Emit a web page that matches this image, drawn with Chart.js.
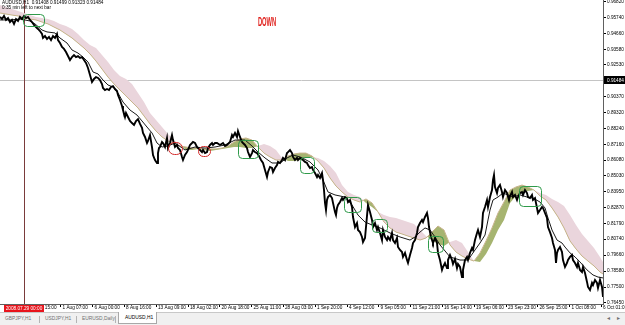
<!DOCTYPE html>
<html>
<head>
<meta charset="utf-8">
<script src="https://cdn.jsdelivr.net/npm/chart.js@4/dist/chart.umd.min.js"></script>
<style>
html,body{margin:0;padding:0;background:#fff;}
#wrap{position:relative;width:625px;height:325px;overflow:hidden;}
#c{position:absolute;left:0;top:0;}
#tabs{position:absolute;left:0;top:312px;width:625px;height:13px;background:#f0f0f0;border-top:1px solid #c8c8c8;box-sizing:border-box;}
.t{position:absolute;top:3px;font-family:'Liberation Sans',Arial,sans-serif;font-size:4.9px;line-height:6px;color:#707070;white-space:nowrap;}
.sep{position:absolute;top:3px;width:1px;height:7px;background:#b4b4b4;}
#act{position:absolute;left:118px;top:-1px;width:39px;height:12px;background:#fff;border:1px solid #a8a8a8;border-top:none;box-sizing:border-box;}
#act .t{left:6px;top:3px;color:#000;}
</style>
</head>
<body>
<div id="wrap">
<canvas id="c" width="625" height="312"></canvas>
<div id="tabs">
  <span class="t" style="left:5px">GBPJPY,H1</span>
  <span class="sep" style="left:39px"></span>
  <span class="t" style="left:45px">USDJPY,H1</span>
  <span class="sep" style="left:76px"></span>
  <span class="t" style="left:82px">EURUSD,Daily</span>
  <span class="sep" style="left:115px"></span>
  <div id="act"><span class="t">AUDUSD,H1</span></div>
  <span class="t" style="left:607px;top:2px;font-size:6px">&#9666;</span>
  <span class="t" style="left:617px;top:2px;font-size:6px">&#9656;</span>
</div>
</div>
<script>
// ---------- DATA (x = H1 bar index from the left edge of the chart) ----------
const priceBars = [
  0,4,8,12,16,20,24,28,32,36,
  40,44,48,52,56,60,64,68,72,76,
  80,84,86,90,94,98,102,106,110,114,
  116,120,124,128,132,136,140,144,148,152,
  156,160,164,168,172,176,180,184,188,192,
  196,200,204,206,210,214,218,222,226,230,
  234,236,240,244,246,250,252,256,260,264,
  268,272,276,280,284,286,290,294,296,300,
  304,306,310,314,316,318,320,324,326,330,
  334,336,340,344,346,350,354,356,360,364,
  366,370,374,376,380,384,386,390,394,396,
  400,404,406,410,414,416,420,424,426,430,
  434,440,446,450,454,460,464,466,470,474,
  476,480,484,486,490,494,496,500,504,506,
  510,514,518,522,526,530,534,536,540,544,
  546,550,554,556,560,564,566,570,574,576,
  580,584,586,590,594,596,600,606,610,614,
  616,620,624,626,630,634,636,640,644,646,
  648,650,652,654,656,660,664,666,670,672,
  674,676,680,684,686,690,694,696,700,704,
  706,710,714,716,720,724,726,730,734,736,
  740,744,746,750,754,756,760,764,766,770,
  774,776,780,784,786,790,794,796,800,804,
  806,810,814,816,820,824,826,830,834,836,
  840,844,846,850,854,856,858,862,864,866,
  870,874,876,880,884,886,890,894,896,900,
  904,906,910,914,916,920,924,926,930,934,
  936,940,944,946,950,954,956,960,964,966,
  970,974,976,980,984,986,988,990,994,996,
  1000,1004,1006,1010,1014,1018,1020,1024,1026,1030,
  1034,1036,1040,1044,1046,1050,1054,1056,1060,1064,
  1066,1070,1074,1076,1080,1084,1086,1090,1094,1096,
  1100,1104,1106,1110,1112,1114,1116,1120,1124,1126,
  1130,1134,1136,1140,1144,1146,1150,1154,1156,1160,
  1164,1166,1170,1174,1176,1180,1184,1186,1190,1194,
  1196,1200,1204,1206
];
const priceClose = [
  0.9576,0.9562,0.9583,0.9556,0.9569,0.9542,0.9556,0.9529,0.9562,0.9549,
  0.9576,0.9562,0.9583,0.9569,0.9576,0.9556,0.9542,0.9522,0.9508,0.9495,
  0.9481,0.9461,0.9434,0.9447,0.9427,0.9441,0.9420,0.9447,0.9434,0.9461,
  0.9420,0.9400,0.9373,0.9360,0.9339,0.9312,0.9285,0.9305,0.9319,0.9305,
  0.9312,0.9299,0.9305,0.9285,0.9265,0.9231,0.9184,0.9136,0.9157,0.9170,
  0.9164,0.9150,0.9123,0.9096,0.9082,0.9089,0.9082,0.9103,0.9109,0.9089,
  0.9076,0.9049,0.9015,0.8974,0.8947,0.8900,0.8927,0.8900,0.8873,0.8859,
  0.8846,0.8873,0.8886,0.8853,0.8826,0.8792,0.8765,0.8724,0.8738,0.8778,
  0.8697,0.8643,0.8609,0.8589,0.8656,0.8690,0.8697,0.8731,0.8724,0.8697,
  0.8758,0.8690,0.8724,0.8778,0.8744,0.8697,0.8711,0.8690,0.8677,0.8630,
  0.8609,0.8643,0.8663,0.8677,0.8711,0.8724,0.8731,0.8724,0.8697,0.8690,
  0.8677,0.8663,0.8677,0.8656,0.8663,0.8690,0.8711,0.8724,0.8711,0.8724,
  0.8724,0.8711,0.8724,0.8704,0.8711,0.8731,0.8778,0.8765,0.8792,0.8765,
  0.8805,0.8765,0.8731,0.8724,0.8711,0.8690,0.8663,0.8630,0.8656,0.8677,
  0.8663,0.8656,0.8636,0.8609,0.8589,0.8542,0.8494,0.8528,0.8562,0.8555,
  0.8528,0.8555,0.8575,0.8596,0.8589,0.8609,0.8623,0.8609,0.8656,0.8663,
  0.8677,0.8656,0.8630,0.8609,0.8623,0.8609,0.8623,0.8609,0.8596,0.8589,
  0.8575,0.8555,0.8562,0.8542,0.8521,0.8494,0.8508,0.8488,0.8521,0.8474,
  0.8406,0.8319,0.8271,0.8339,0.8359,0.8373,0.8352,0.8319,0.8258,0.8237,
  0.8285,0.8305,0.8325,0.8352,0.8339,0.8359,0.8352,0.8325,0.8339,0.8292,
  0.8224,0.8156,0.8183,0.8136,0.8122,0.8089,0.8055,0.8082,0.8231,0.8305,
  0.8258,0.8204,0.8156,0.8183,0.8136,0.8156,0.8116,0.8068,0.8136,0.8089,
  0.8068,0.8089,0.8068,0.8116,0.8068,0.8048,0.8082,0.8021,0.8001,0.7987,
  0.7954,0.7981,0.7933,0.7913,0.7967,0.8014,0.8048,0.8068,0.8116,0.8156,
  0.8183,0.8204,0.8190,0.8224,0.8251,0.8217,0.8156,0.8089,0.8068,0.8048,
  0.8082,0.8048,0.7981,0.7933,0.7866,0.7886,0.7913,0.7879,0.7933,0.7967,
  0.7933,0.7906,0.7940,0.7879,0.7906,0.7886,0.7818,0.7866,0.7933,0.7954,
  0.7933,0.7981,0.8014,0.8001,0.8068,0.8116,0.8136,0.8089,0.8156,0.8251,
  0.8292,0.8339,0.8292,0.8359,0.8406,0.8474,0.8508,0.8427,0.8386,0.8420,
  0.8440,0.8393,0.8359,0.8406,0.8386,0.8339,0.8366,0.8393,0.8359,0.8373,
  0.8339,0.8359,0.8386,0.8393,0.8373,0.8406,0.8386,0.8359,0.8352,0.8373,
  0.8339,0.8352,0.8285,0.8251,0.8271,0.8292,0.8285,0.8251,0.8217,0.8156,
  0.8122,0.8082,0.8048,0.8001,0.7913,0.7981,0.8001,0.8021,0.7987,0.7933,
  0.7886,0.7913,0.7933,0.7954,0.7967,0.7933,0.7913,0.7886,0.7913,0.7866,
  0.7852,0.7886,0.7845,0.7785,0.7751,0.7730,0.7778,0.7764,0.7798,0.7778,
  0.7744,0.7798,0.7751,0.7683
];
const kijunBars = [
  0,20,40,60,70,84,94,110,120,134,
  144,156,166,176,186,196,206,216,226,236,
  246,260,274,284,294,304,314,324,336,350,
  370,390,410,430,450,470,490,504,516,530,
  544,560,574,586,600,620,636,646,656,670,
  690,704,716,730,744,760,780,800,820,830,
  840,850,860,870,880,900,920,936,950,960,
  970,976,980,986,996,1006,1016,1026,1040,1054,
  1066,1080,1090,1096,1104,1114,1124,1130,1140,1150,
  1160,1174,1186,1196,1206
];
const kijun = [
  0.9556,0.9556,0.9562,0.9549,0.9529,0.9488,0.9475,0.9468,0.9434,0.9400,
  0.9353,0.9332,0.9305,0.9272,0.9204,0.9191,0.9150,0.9116,0.9103,0.9062,
  0.9001,0.8947,0.8913,0.8873,0.8832,0.8792,0.8724,0.8697,0.8704,0.8724,
  0.8677,0.8697,0.8690,0.8697,0.8711,0.8744,0.8744,0.8704,0.8663,0.8623,
  0.8589,0.8589,0.8623,0.8643,0.8630,0.8596,0.8542,0.8474,0.8393,0.8373,
  0.8359,0.8305,0.8237,0.8190,0.8170,0.8150,0.8116,0.8089,0.8068,0.8089,
  0.8122,0.8150,0.8136,0.8089,0.8035,0.7954,0.7933,0.7933,0.8001,0.8048,
  0.8102,0.8204,0.8271,0.8339,0.8359,0.8386,0.8373,0.8359,0.8373,0.8359,
  0.8352,0.8325,0.8285,0.8217,0.8136,0.8068,0.8048,0.8021,0.7981,0.7954,
  0.7920,0.7866,0.7832,0.7818,0.7812
];
const cloudBars = [
  0,12,24,36,48,60,72,84,96,108,
  120,132,144,156,168,180,192,204,216,228,
  240,252,264,276,288,300,312,324,336,348,
  360,372,384,396,408,420,432,444,456,468,
  480,492,504,516,528,540,552,564,576,588,
  600,612,624,636,648,660,672,684,696,708,
  720,732,744,756,768,780,792,804,816,828,
  840,852,864,876,888,900,912,924,936,948,
  960,972,984,996,1008,1020,1032,1044,1056,1068,
  1080,1092,1104,1116,1128,1140,1152,1164,1176,1188,
  1200,1206
];
const spanA = [
  0.9603,0.9596,0.9589,0.9583,0.9569,0.9562,0.9556,0.9542,0.9529,0.9508,
  0.9488,0.9461,0.9434,0.9400,0.9366,0.9326,0.9278,0.9224,0.9170,0.9123,
  0.9082,0.9042,0.9001,0.8961,0.8907,0.8853,0.8805,0.8765,0.8738,0.8717,
  0.8704,0.8697,0.8690,0.8690,0.8684,0.8684,0.8684,0.8690,0.8704,0.8731,
  0.8751,0.8758,0.8744,0.8697,0.8656,0.8630,0.8609,0.8609,0.8636,0.8650,
  0.8656,0.8656,0.8636,0.8602,0.8555,0.8488,0.8433,0.8393,0.8359,0.8339,
  0.8325,0.8346,0.8319,0.8258,0.8190,0.8150,0.8122,0.8109,0.8095,0.8082,
  0.8068,0.8082,0.8122,0.8163,0.8136,0.8035,0.7987,0.7960,0.7940,0.7926,
  0.7981,0.8062,0.8150,0.8251,0.8325,0.8406,0.8427,0.8440,0.8427,0.8406,
  0.8366,0.8339,0.8285,0.8224,0.8150,0.8062,0.8008,0.7960,0.7926,0.7893,
  0.7852,0.7839
];
const spanB = [
  0.9657,0.9643,0.9630,0.9616,0.9603,0.9589,0.9576,0.9569,0.9562,0.9549,
  0.9529,0.9515,0.9495,0.9461,0.9420,0.9387,0.9366,0.9319,0.9272,0.9218,
  0.9177,0.9157,0.9123,0.9062,0.9001,0.8927,0.8880,0.8832,0.8785,0.8744,
  0.8711,0.8677,0.8677,0.8684,0.8677,0.8670,0.8677,0.8684,0.8690,0.8697,
  0.8697,0.8690,0.8690,0.8704,0.8717,0.8704,0.8677,0.8623,0.8602,0.8602,
  0.8609,0.8623,0.8630,0.8623,0.8602,0.8569,0.8521,0.8440,0.8393,0.8373,
  0.8359,0.8319,0.8292,0.8258,0.8237,0.8224,0.8217,0.8204,0.8190,0.8177,
  0.8136,0.8095,0.8068,0.8041,0.8028,0.8055,0.8068,0.8048,0.7987,0.7926,
  0.7920,0.7974,0.8048,0.8136,0.8204,0.8319,0.8366,0.8386,0.8400,0.8406,
  0.8386,0.8373,0.8346,0.8325,0.8298,0.8237,0.8170,0.8109,0.8062,0.8014,
  0.7954,0.7920
];
const yTickValues = [0.96820,0.95740,0.94660,0.93580,0.92530,0.90370,0.89320,0.88240,0.87160,0.86080,
  0.85030,0.83950,0.82870,0.81790,0.80740,0.79660,0.78580,0.77500,0.76450];
const yMin = 0.76358, yMax = 0.96908;
const timeTickBars = [58,121,185,248,312,376,439,503,566,630,694,757,821,884,948,1012,1075,1139,1202];
const timeTickLabels = ['29 Jul 15:00','1 Aug 07:00','6 Aug 00:00','8 Aug 16:00','13 Aug 09:00','18 Aug 02:00',
  '20 Aug 18:00','25 Aug 11:00','28 Aug 03:00','1 Sep 20:00','4 Sep 12:00','9 Sep 05:00','11 Sep 21:00',
  '16 Sep 14:00','19 Sep 06:00','23 Sep 23:00','26 Sep 15:00','1 Oct 08:00','6 Oct 01:00'];
const xMax = 1206;
const currentPrice = 0.91484;
const cursorBar = 48;
const cursorLabel = '2008.07.29 00:00';
const headerLine1 = 'AUDUSD,H1  0.91408 0.91499 0.91323 0.91484';
const headerLine2 = '0:35 min left to next bar';
const downText = 'DOWN';
const downBar = 534, downPrice = 0.9540;
// highlighted zones (green = rounded boxes, red = ovals)
const boxKind    = ['g','g','g','g','g','g','g','r','r'];
const boxBarFrom = [46, 476, 600, 688, 744, 856, 1038, 336, 396];
const boxBarTo   = [88, 516, 628, 722, 774, 886, 1082, 364, 420];
const boxHigh    = [0.9596,0.8744,0.8630,0.8359,0.8210,0.8095,0.8433,0.8731,0.8704];
const boxLow     = [0.9515,0.8623,0.8521,0.8258,0.8122,0.7987,0.8298,0.8650,0.8636];

// ---------- CHART ----------
const FONT = "'Liberation Sans', Arial, sans-serif";
const pts = (xs, ys) => xs.map((b, i) => ({x: b, y: ys[i]}));

const overlay = {
  id: 'overlay',
  beforeDatasetsDraw(chart) {
    const {ctx, chartArea: a, scales: {x, y}} = chart;
    ctx.save();
    const py = Math.round(y.getPixelForValue(currentPrice)) + 0.5;
    ctx.strokeStyle = '#c4c4c4'; ctx.lineWidth = 1;
    ctx.beginPath(); ctx.moveTo(a.left, py); ctx.lineTo(a.right, py); ctx.stroke();
    const vx = Math.round(x.getPixelForValue(cursorBar)) + 0.5;
    ctx.strokeStyle = '#7a3b3b';
    ctx.beginPath(); ctx.moveTo(vx, a.top); ctx.lineTo(vx, a.bottom); ctx.stroke();
    ctx.restore();
  },
  afterDatasetsDraw(chart) {
    const {ctx, scales: {x, y}} = chart;
    ctx.save();
    ctx.lineWidth = 1;
    for (let i = 0; i < boxKind.length; i++) {
      const x0 = Math.round(x.getPixelForValue(boxBarFrom[i])) + 0.5;
      const x1 = Math.round(x.getPixelForValue(boxBarTo[i])) + 0.5;
      const y0 = Math.round(y.getPixelForValue(boxHigh[i])) + 0.5;
      const y1 = Math.round(y.getPixelForValue(boxLow[i])) + 0.5;
      ctx.strokeStyle = boxKind[i] === 'g' ? '#2f9a4a' : '#d42a2a';
      ctx.beginPath();
      ctx.roundRect(x0, y0, x1 - x0, y1 - y0, boxKind[i] === 'g' ? 4 : 6);
      ctx.stroke();
    }
    // DOWN label
    const dx = x.getPixelForValue(downBar), dy = y.getPixelForValue(downPrice);
    ctx.translate(dx, dy); ctx.scale(0.48, 1);
    ctx.font = 'bold 12px ' + FONT; ctx.fillStyle = '#e0201c';
    ctx.textAlign = 'center'; ctx.textBaseline = 'middle';
    ctx.fillText(downText, 0, 0);
    ctx.restore();
  },
  afterDraw(chart) {
    const {ctx, chartArea: a, scales: {x, y}} = chart;
    ctx.save();
    ctx.font = '4.7px ' + FONT; ctx.textBaseline = 'middle'; ctx.textAlign = 'left';
    ctx.fillStyle = '#000';
    ctx.fillText(headerLine1, 2, 3);
    ctx.fillText(headerLine2, 2, 7.5);
    // current price marker on the price axis
    const py = y.getPixelForValue(currentPrice);
    ctx.fillStyle = '#000'; ctx.fillRect(a.right + 1, Math.round(py) - 4, 22, 8);
    ctx.fillStyle = '#fff'; ctx.fillText(currentPrice.toFixed(5), a.right + 4, py);
    // cursor time marker on the time axis
    const vx = x.getPixelForValue(cursorBar);
    ctx.fillStyle = '#e8141c'; ctx.fillRect(Math.round(vx) - 20, a.bottom + 1, 40, 7);
    ctx.fillStyle = '#fff'; ctx.textAlign = 'center';
    ctx.fillText(cursorLabel, vx, a.bottom + 4.5);
    ctx.restore();
  }
};

new Chart(document.getElementById('c'), {
  type: 'line',
  data: {
    datasets: [
      { label: 'Senkou Span A', data: pts(cloudBars, spanA), borderColor: '#c6b28a', borderWidth: 1,
        pointRadius: 0, fill: false, order: 3 },
      { label: 'Senkou Span B', data: pts(cloudBars, spanB), borderColor: 'rgba(0,0,0,0)', borderWidth: 0,
        pointRadius: 0, fill: { target: 0, above: '#ead5dc', below: '#a6b470' }, order: 4 },
      { label: 'Kijun-sen', data: pts(kijunBars, kijun), borderColor: '#1a1a1a', borderWidth: 1,
        pointRadius: 0, fill: false, order: 2 },
      { label: 'AUDUSD,H1', data: pts(priceBars, priceClose), borderColor: '#000', borderWidth: 1.9,
        pointRadius: 0, fill: false, order: 1 }
    ]
  },
  options: {
    responsive: false, animation: false, events: [],
    layout: { padding: 0 },
    elements: { line: { tension: 0 } },
    plugins: { legend: { display: false }, tooltip: { enabled: false } },
    scales: {
      x: {
        type: 'linear', position: 'bottom', min: 0, max: xMax,
        grid: { drawOnChartArea: false, drawTicks: true, tickLength: 3, tickColor: '#000' },
        border: { display: true, color: '#606060' },
        ticks: {
          autoSkip: false, maxRotation: 0, minRotation: 0, align: 'start', labelOffset: 2, padding: -2,
          font: { size: 4.7, family: FONT }, color: '#000',
          callback: (v) => { const i = timeTickBars.indexOf(v); return i >= 0 ? timeTickLabels[i] : ''; }
        },
        afterBuildTicks: (s) => { s.ticks = timeTickBars.map(v => ({ value: v })); },
        afterFit: (s) => { s.height = 8; s.paddingLeft = 0; s.paddingRight = 0; }
      },
      y: {
        type: 'linear', position: 'right', min: yMin, max: yMax,
        grid: { drawOnChartArea: false, drawTicks: true, tickLength: 3, tickColor: '#000' },
        border: { display: true, color: '#606060' },
        ticks: { font: { size: 4.7, family: FONT }, color: '#000', padding: 1,
          callback: (v) => Number(v).toFixed(5) },
        afterBuildTicks: (s) => { s.ticks = yTickValues.map(v => ({ value: v })); },
        afterFit: (s) => { s.width = 22; s.paddingTop = 0; s.paddingBottom = 0; }
      }
    }
  },
  plugins: [overlay]
});
</script>
</body>
</html>
